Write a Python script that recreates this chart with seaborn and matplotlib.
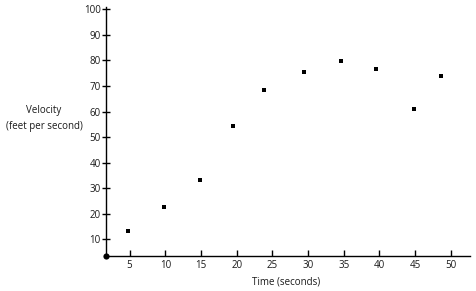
import matplotlib
matplotlib.use("Agg")
import matplotlib.pyplot as plt
import seaborn as sns
import pandas as pd

time_s = [1.7, 4.8, 9.8, 14.8, 19.5, 23.9, 29.4, 34.6, 39.5, 44.8, 48.7]
velocity = [3.5, 13.4, 22.5, 33.2, 54.3, 68.5, 75.6, 79.9, 76.5, 61.0, 73.8]
x_ticks = [5, 10, 15, 20, 25, 30, 35, 40, 45, 50]
y_ticks = [10, 20, 30, 40, 50, 60, 70, 80, 90, 100]

df = pd.DataFrame({"t": time_s, "v": velocity})

sns.set_theme(style="white")
plt.rcParams['font.family'] = ['Open Sans', 'DejaVu Sans']

fig = plt.figure(figsize=(4.76, 2.91), dpi=100)
ax = fig.add_axes([105.7/476, 1-256/291, (470-105.7)/476, (256-7)/291])

sns.scatterplot(data=df.iloc[1:], x="t", y="v", ax=ax, marker="s", s=10,
                color="black", edgecolor="black", linewidth=0, zorder=5)
first = df.iloc[:1]
sns.scatterplot(data=first, x="t", y="v", ax=ax, marker="o", s=20,
                color="black", edgecolor="black", linewidth=0, zorder=6, clip_on=False)

ax.set_xlim(1.65, 52.7)
ax.set_ylim(3.5, 100.9)
ax.set_xticks(x_ticks)
ax.set_yticks(y_ticks)
ax.set_xticklabels([str(t) for t in x_ticks])
ax.set_yticklabels([str(t) for t in y_ticks])

for s in ["top", "right"]:
    ax.spines[s].set_visible(False)
for s in ["left", "bottom"]:
    ax.spines[s].set_color("black")
    ax.spines[s].set_linewidth(1.0)

ax.tick_params(axis="x", bottom=True, direction="in", length=4.5, width=1.0,
               colors="black", labelsize=7, pad=3)
ax.tick_params(axis="y", left=True, direction="inout", length=6, width=1.0,
               colors="black", labelsize=7, pad=0.5)
ax.tick_params(axis="both", labelcolor="#1a1a1a")

ax.set_xlabel("")
ax.set_ylabel("")
fig.text(286/476, 1-282/291, "Time (seconds)", ha="center", va="center",
         fontsize=7, color="#1a1a1a")
fig.text(44/476, 1-118.5/291, "Velocity\n(feet per second)", ha="center",
         va="center", fontsize=7, color="#1a1a1a", linespacing=1.5)

fig.savefig("out.png", dpi=100, facecolor="white")
